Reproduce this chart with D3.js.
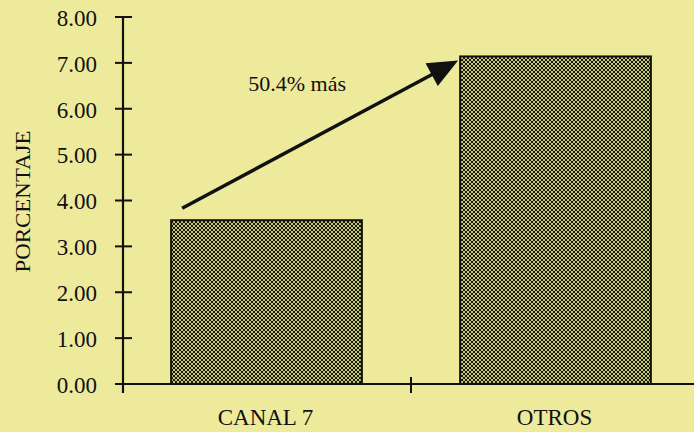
<!DOCTYPE html>
<html>
<head>
<meta charset="utf-8">
<script src="https://cdn.jsdelivr.net/npm/d3@7"></script>
<style>
  body { margin: 0; background: #edea9c; }
  svg { display: block; }
  text { font-family: "Liberation Serif", "Times New Roman", serif; fill: #111; }
</style>
</head>
<body>
<div id="chart"></div>
<script>
const categories = ["CANAL 7", "OTROS"];
const values = [3.57, 7.14];
const yTicks = [0, 1, 2, 3, 4, 5, 6, 7, 8];
const yTitle = "PORCENTAJE";
const arrowLabel = "50.4% más";

const W = 694, H = 432;
const margin = { top: 17, right: -7, bottom: 48, left: 123 };
const width = W - margin.left - margin.right;
const height = H - margin.top - margin.bottom;

const svg = d3.select("#chart").append("svg")
  .attr("width", W).attr("height", H);

const defs = svg.append("defs");
const pat = defs.append("pattern")
  .attr("id", "checker")
  .attr("patternUnits", "userSpaceOnUse")
  .attr("width", 4).attr("height", 4);
pat.append("rect").attr("width", 4).attr("height", 4).attr("fill", "#c2c676");
pat.append("rect").attr("x", 0).attr("y", 0).attr("width", 2).attr("height", 2).attr("fill", "#1a1a10");
pat.append("rect").attr("x", 2).attr("y", 2).attr("width", 2).attr("height", 2).attr("fill", "#1a1a10");

const g = svg.append("g").attr("transform", `translate(${margin.left},${margin.top})`);

const x = d3.scaleBand().domain(categories).range([0, width]);
const y = d3.scaleLinear().domain([0, 8]).range([height, 0]);

const barW = x.bandwidth() * 0.66;

// bars
g.selectAll("rect.bar")
  .data(categories)
  .enter().append("rect")
  .attr("class", "bar")
  .attr("x", (d) => x(d) + (x.bandwidth() - barW) / 2 - 1)
  .attr("y", (d, i) => y(values[i]))
  .attr("width", barW)
  .attr("height", (d, i) => height - y(values[i]))
  .attr("fill", "url(#checker)")
  .attr("stroke", "#111")
  .attr("stroke-width", 2);

// y axis
const yAxis = g.append("g")
  .call(d3.axisLeft(y).tickValues(yTicks).tickFormat(d3.format(".2f")).tickSize(0).tickPadding(26));
yAxis.select(".domain").remove();
yAxis.selectAll("text").style("font-size", "23px").attr("dy", "0.36em");
g.append("line")
  .attr("x1", 0).attr("x2", 0)
  .attr("y1", y(8)).attr("y2", height + 9)
  .attr("stroke", "#111").attr("stroke-width", 2.2);
g.selectAll("line.ytick")
  .data(yTicks)
  .enter().append("line")
  .attr("class", "ytick")
  .attr("x1", -8).attr("x2", 9)
  .attr("y1", (d) => y(d)).attr("y2", (d) => y(d))
  .attr("stroke", "#111").attr("stroke-width", 2);

// x axis
g.append("line")
  .attr("x1", -8).attr("x2", width)
  .attr("y1", height).attr("y2", height)
  .attr("stroke", "#111").attr("stroke-width", 2.2);
g.selectAll("line.xtick")
  .data(categories.slice(1))
  .enter().append("line")
  .attr("class", "xtick")
  .attr("x1", (d) => x(d) - 1).attr("x2", (d) => x(d) - 1)
  .attr("y1", height - 7).attr("y2", height + 9)
  .attr("stroke", "#111").attr("stroke-width", 2);
g.selectAll("text.xlab")
  .data(categories)
  .enter().append("text")
  .attr("class", "xlab")
  .attr("x", (d) => x(d) + x.bandwidth() / 2 - 2)
  .attr("y", height + 41)
  .attr("text-anchor", "middle")
  .style("font-size", "23px")
  .text((d) => d);

// y title
svg.append("text")
  .attr("transform", `translate(30,${margin.top + height / 2 + 1}) rotate(-90)`)
  .attr("text-anchor", "middle")
  .attr("textLength", 142)
  .attr("lengthAdjust", "spacingAndGlyphs")
  .style("font-size", "22px")
  .text(yTitle);

// arrow from first bar to second bar
const x0 = x(categories[0]) + (x.bandwidth() - barW) / 2 + 10;
const y0 = y(values[0]) - 12;
const x1 = x(categories[1]) + (x.bandwidth() - barW) / 2 - 3;
const y1 = y(values[1]) + 4;
const ang = Math.atan2(y1 - y0, x1 - x0);
const headL = 30, headW = 13;
const bx = x1 - headL * Math.cos(ang), by = y1 - headL * Math.sin(ang);
g.append("line")
  .attr("x1", x0).attr("y1", y0)
  .attr("x2", bx + 2 * Math.cos(ang)).attr("y2", by + 2 * Math.sin(ang))
  .attr("stroke", "#111").attr("stroke-width", 3.5);
g.append("path")
  .attr("d", () => {
    const px = -Math.sin(ang) * headW, py = Math.cos(ang) * headW;
    return `M${x1},${y1} L${bx + px},${by + py} L${bx - px},${by - py} Z`;
  })
  .attr("fill", "#111");

g.append("text")
  .attr("x", (x0 + x1) / 2 - 23)
  .attr("y", y(values[1]) + 35)
  .attr("text-anchor", "middle")
  .style("font-size", "22px")
  .text(arrowLabel);
</script>
</body>
</html>
